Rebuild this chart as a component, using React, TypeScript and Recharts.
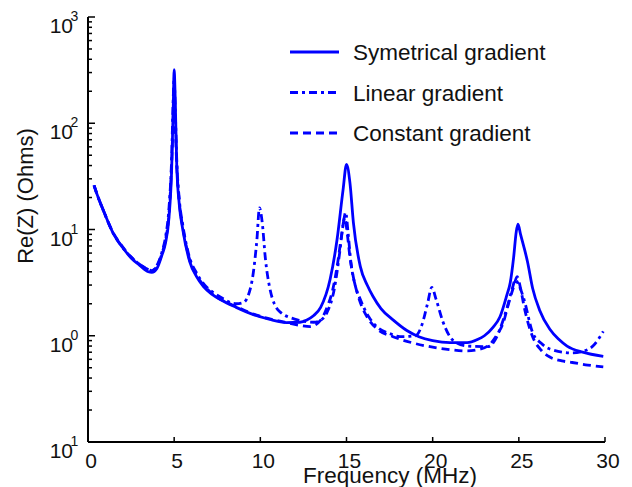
import React from 'react';
import { LineChart, Line, XAxis, YAxis, Legend, Label } from 'recharts';

// Symmetrical gradient (solid)
const symFreq = [0.35, 0.5, 0.9, 1.45, 2.0, 2.5, 3.0, 3.5, 3.7, 4.0, 4.3, 4.5, 4.7, 4.85, 4.95, 5.0, 5.05, 5.15, 5.3, 5.5, 5.9, 6.3, 6.7, 7.2, 7.7, 8.6, 9.6, 10.5, 11.5, 12.3, 12.7, 13.1, 13.5, 14.05, 14.45, 14.8, 15.0, 15.2, 15.4, 15.8, 16.2, 16.55, 17.0, 17.7, 18.5, 19.2, 20.0, 21.0, 22.0, 22.6, 23.0, 23.5, 23.9, 24.3, 24.5, 24.7, 24.85, 24.95, 25.1, 25.3, 25.5, 25.8, 26.2, 26.8, 27.3, 27.8, 28.7, 29.9];
const symRe = [26, 22, 15, 9.3, 6.8, 5.4, 4.6, 4.0, 3.95, 4.3, 5.8, 7.5, 13, 35, 150, 320, 200, 40, 17, 10, 5.0, 3.6, 2.9, 2.45, 2.18, 1.85, 1.58, 1.43, 1.33, 1.34, 1.41, 1.55, 1.85, 3.4, 8, 23.6, 41, 27.5, 11.6, 4.5, 3.0, 2.33, 1.8, 1.41, 1.12, 0.98, 0.9, 0.86, 0.86, 0.92, 1.0, 1.2, 1.5, 2.4, 3.15, 5.5, 9.5, 11.2, 9.0, 6.8, 5.0, 2.8, 1.75, 1.15, 0.93, 0.8, 0.7, 0.64];

// Linear gradient (dash-dot)
const linFreq = [0.35, 0.5, 0.9, 1.45, 2.0, 2.5, 3.0, 3.5, 3.7, 4.0, 4.3, 4.5, 4.7, 4.85, 4.95, 5.0, 5.05, 5.15, 5.3, 5.5, 5.9, 6.3, 6.7, 7.2, 7.7, 8.6, 9.0, 9.3, 9.6, 9.8, 9.95, 10.1, 10.3, 10.55, 11.1, 12.1, 13.1, 13.5, 13.9, 14.3, 14.6, 14.8, 14.95, 15.1, 15.25, 15.5, 15.8, 16.3, 16.8, 17.5, 18.1, 19.0, 19.4, 19.7, 19.95, 20.2, 20.6, 21.2, 22.0, 23.2, 23.6, 23.9, 24.3, 24.6, 24.8, 25.0, 25.3, 25.8, 26.3, 26.8, 28.1, 28.8, 29.3, 29.6, 29.9];
const linRe = [26, 22, 15, 9.3, 6.8, 5.5, 4.7, 4.2, 4.1, 4.6, 6.2, 8.5, 16, 45, 180, 270, 160, 45, 19, 11, 5.4, 3.9, 3.1, 2.6, 2.3, 2.0, 2.05, 2.4, 4.0, 8.0, 16, 12, 5.2, 2.8, 1.7, 1.42, 1.34, 1.4, 1.7, 2.8, 6.0, 11, 14.5, 9.0, 5.0, 3.0, 2.2, 1.5, 1.2, 1.05, 0.98, 1.0, 1.3, 2.0, 2.85, 2.2, 1.35, 0.9, 0.8, 0.79, 0.9, 1.15, 1.8, 2.7, 3.35, 3.0, 2.2, 1.07, 0.85, 0.75, 0.69, 0.72, 0.8, 0.92, 1.1];

// Constant gradient (dashed)
const conFreq = [0.35, 0.5, 0.9, 1.45, 2.0, 2.5, 3.0, 3.5, 3.7, 4.0, 4.3, 4.5, 4.7, 4.85, 4.95, 5.0, 5.05, 5.15, 5.3, 5.5, 5.9, 6.3, 6.7, 7.2, 7.7, 8.6, 9.6, 10.5, 11.5, 12.3, 12.9, 13.5, 13.9, 14.2, 14.5, 14.7, 14.9, 15.05, 15.2, 15.35, 15.7, 16.2, 16.8, 17.7, 18.8, 20.0, 21.0, 22.0, 22.6, 23.2, 23.7, 24.1, 24.4, 24.7, 24.9, 25.1, 25.3, 25.8, 26.3, 26.8, 27.5, 28.1, 29.0, 29.9];
const conRe = [26, 22, 15, 9.4, 6.9, 5.5, 4.7, 4.2, 4.1, 4.5, 6.0, 8.0, 14, 40, 120, 230, 120, 40, 18, 10.5, 5.2, 3.7, 3.0, 2.5, 2.2, 1.88, 1.6, 1.45, 1.33, 1.25, 1.22, 1.4, 1.9, 2.7, 5.0, 8.5, 12.9, 9.0, 5.5, 3.9, 2.3, 1.5, 1.15, 0.98, 0.86, 0.78, 0.74, 0.72, 0.74, 0.8, 1.0, 1.33, 2.0, 2.9, 3.6, 2.8, 1.9, 0.98, 0.73, 0.63, 0.58, 0.56, 0.53, 0.51];

const seriesNames = ['Symetrical gradient', 'Linear gradient', 'Constant gradient'];
const seriesDash = ['', '8 4 3 4', '8 5'];

const xTicks = [0, 5, 10, 15, 20, 25, 30];
const yDecades = [0.1, 1, 10, 100, 1000];
const yDecadeExp = ['1', '0', '1', '2', '3'];

const yAllTicks: number[] = [];
yDecades.forEach((d, i) => {
  yAllTicks.push(d);
  if (i < yDecades.length - 1) {
    for (let m = 2; m <= 9; m++) yAllTicks.push(+(m * d).toPrecision(3));
  }
});

const toRows = (xs: number[], ys: number[]) => xs.map((f, i) => ({ f, re: ys[i] }));
const symData = toRows(symFreq, symRe);
const linData = toRows(linFreq, linRe);
const conData = toRows(conFreq, conRe);

const FONT = '"Liberation Sans", Arial, Helvetica, sans-serif';
const BLUE = '#0000ff';

const decadeIndex = (v: number) => yDecades.findIndex((d) => Math.abs(d - v) / d < 1e-6);

const LeftTick = (props: any) => {
  const { x, y, payload } = props;
  const di = decadeIndex(payload.value);
  const len = di >= 0 ? 7 : 4;
  return (
    <g>
      <line x1={x} x2={x + len} y1={y} y2={y} stroke="#000" strokeWidth={1.5} />
      {di >= 0 && (
        <g fontFamily={FONT} fill="#111">
          <text x={x - 15} y={y + 16} fontSize={21} textAnchor="end">10</text>
          <text x={x - 17.5} y={y + 4} fontSize={14}>{yDecadeExp[di]}</text>
        </g>
      )}
    </g>
  );
};

const RightTick = (props: any) => {
  const { x, y, payload } = props;
  const di = decadeIndex(payload.value);
  const len = di >= 0 ? 7 : 4;
  return <line x1={x} x2={x - len} y1={y} y2={y} stroke="#000" strokeWidth={1.5} />;
};

const BottomTick = (props: any) => {
  const { x, y, payload } = props;
  return (
    <g>
      <line x1={x} x2={x} y1={y} y2={y - 5} stroke="#000" strokeWidth={1.5} />
      <text x={x + 3} y={y + 26} fontSize={21} fontFamily={FONT} textAnchor="middle" fill="#111">
        {payload.value}
      </text>
    </g>
  );
};

const TopTick = (props: any) => {
  const { x, y } = props;
  return <line x1={x} x2={x} y1={y} y2={y + 5} stroke="#000" strokeWidth={1.5} />;
};

const LegendBox = () => (
  <svg width={320} height={125} style={{ display: 'block' }}>
    {seriesNames.map((n, i) => {
      const cy = 22 + i * 40.5;
      return (
        <g key={n}>
          <line x1={8} x2={57} y1={cy} y2={cy} stroke={BLUE} strokeWidth={2.8} strokeDasharray={seriesDash[i] || undefined} />
          <text x={71} y={cy + 8} fontSize={22.5} fontFamily={FONT} fill="#111">{n}</text>
        </g>
      );
    })}
  </svg>
);

export default function App() {
  return (
    <div>
      <style>{`html,body{margin:0;padding:0;overflow:hidden;background:#fff}`}</style>
      <LineChart width={632} height={487} margin={{ top: 17, right: 27, bottom: 0, left: 0 }}>
        <XAxis
          xAxisId="b"
          dataKey="f"
          type="number"
          domain={[0, 30]}
          ticks={xTicks}
          interval={0}
          height={45}
          tickSize={0}
          tickMargin={0}
          tickLine={false}
          tick={<BottomTick />}
          axisLine={{ stroke: '#000', strokeWidth: 2 }}
          allowDataOverflow
        >
          <Label
            content={(p: any) => {
              const vb = p.viewBox || { x: 88, y: 442 };
              return (
                <text x={vb.x + 302} y={vb.y + 41} fontSize={22.5} fontFamily={FONT} textAnchor="middle" fill="#111">
                  Frequency (MHz)
                </text>
              );
            }}
          />
        </XAxis>
        <XAxis
          xAxisId="t"
          dataKey="f"
          type="number"
          orientation="top"
          domain={[0, 30]}
          ticks={xTicks}
          interval={0}
          height={0}
          tickSize={0}
          tickMargin={0}
          tickLine={false}
          tick={<TopTick />}
          axisLine={{ stroke: '#000', strokeWidth: 2 }}
          allowDataOverflow
        />
        <YAxis
          yAxisId="l"
          dataKey="re"
          scale="log"
          type="number"
          domain={[0.1, 1000]}
          ticks={yAllTicks}
          interval={0}
          width={88}
          tickSize={0}
          tickMargin={0}
          tickLine={false}
          tick={<LeftTick />}
          axisLine={{ stroke: '#000', strokeWidth: 2 }}
          allowDataOverflow
        >
          <Label
            content={() => (
              <text transform="translate(33,196) rotate(-90)" x={0} y={0} fontSize={22} fontFamily={FONT} textAnchor="middle" fill="#111">
                Re(Z) (Ohms)
              </text>
            )}
          />
        </YAxis>
        <YAxis
          yAxisId="r"
          dataKey="re"
          orientation="right"
          scale="log"
          type="number"
          domain={[0.1, 1000]}
          ticks={yAllTicks}
          interval={0}
          width={0}
          tickSize={0}
          tickMargin={0}
          tickLine={false}
          tick={<RightTick />}
          axisLine={{ stroke: '#000', strokeWidth: 2 }}
          allowDataOverflow
        />
        <Legend
          layout="vertical"
          align="center"
          verticalAlign="middle"
          content={<LegendBox />}
          wrapperStyle={{ position: 'absolute', left: 282, top: 30, width: 320, height: 125 }}
        />
        <Line xAxisId="b" yAxisId="l" data={symData} dataKey="re" name={seriesNames[0]} type="monotone" stroke={BLUE} strokeWidth={2.8} dot={false} isAnimationActive={false} />
        <Line xAxisId="b" yAxisId="l" data={linData} dataKey="re" name={seriesNames[1]} type="monotone" stroke={BLUE} strokeWidth={2.8} strokeDasharray={seriesDash[1]} dot={false} isAnimationActive={false} />
        <Line xAxisId="b" yAxisId="l" data={conData} dataKey="re" name={seriesNames[2]} type="monotone" stroke={BLUE} strokeWidth={2.8} strokeDasharray={seriesDash[2]} dot={false} isAnimationActive={false} />
        <Line xAxisId="t" yAxisId="r" data={symData} dataKey="re" stroke="none" strokeWidth={0} dot={false} activeDot={false} legendType="none" isAnimationActive={false} />
      </LineChart>
    </div>
  );
}
